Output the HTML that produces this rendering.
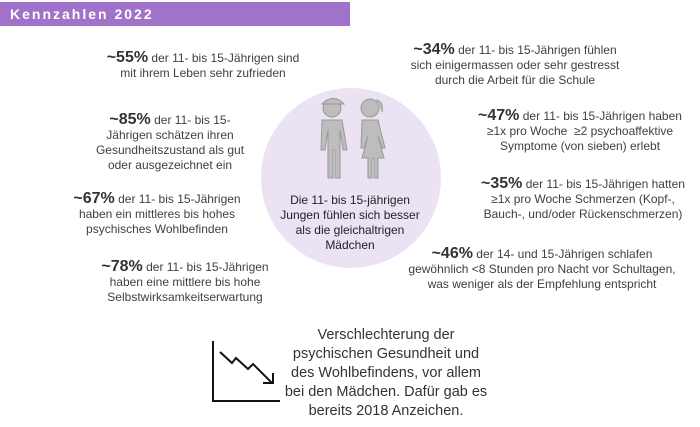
<!DOCTYPE html>
<html><head><meta charset="utf-8"><style>
body{margin:0;width:700px;height:427px;background:#fff;position:relative;overflow:hidden;font-family:"Liberation Sans",sans-serif;color:#404040}
.hdr{position:absolute;left:0;top:2px;width:350px;height:24px;background:#a172c9}
.hdr span{position:absolute;left:10px;top:4px;color:#fff;font-weight:bold;font-size:14px;letter-spacing:2px}
.b{position:absolute;text-align:center;font-size:12px;line-height:15px;transform:translateX(-50%);white-space:nowrap}
.b b{font-size:16px;color:#333}
.circ{position:absolute;left:261px;top:88px;width:180px;height:180px;border-radius:50%;background:#ebe2f3}
</style></head><body>
<div class="hdr"><span>Kennzahlen 2022</span></div>
<div class="circ"></div>
<svg style="position:absolute;left:310px;top:92px" width="90" height="90" viewBox="0 0 90 90">
<g fill="#bdbdbd" stroke="#999" stroke-width="1">
<circle cx="22" cy="16" r="9"/><path d="M12 12 Q22 2 32 10 L34 12 L12 12Z"/>
<path d="M12 28 h20 l5 30 h-4 l-3-20 v48 h-5 v-28 h-2 v28 h-5 v-48 l-3 20 h-4z"/>
<circle cx="60" cy="16" r="9"/><path d="M66 8 q8 2 6 12"/>
<path d="M52 28 h16 l7 28 h-3 l-4-12 6 22 h-6 v20 h-4 v-20 h-2 v20 h-4 v-20 h-6 l6-22 -4 12 h-3z"/>
</g></svg>
<div class="b" style="left:350px;top:193px;color:#222">Die 11- bis 15-jährigen<br>Jungen fühlen sich besser<br>als die gleichaltrigen<br>Mädchen</div>

<div class="b" style="left:203px;top:50px"><b>~55%</b> der 11- bis 15-Jährigen sind<br>mit ihrem Leben sehr zufrieden</div>
<div class="b" style="left:170px;top:112px"><b>~85%</b> der 11- bis 15-<br>Jährigen schätzen ihren<br>Gesundheitszustand als gut<br>oder ausgezeichnet ein</div>
<div class="b" style="left:157px;top:191px"><b>~67%</b> der 11- bis 15-Jährigen<br>haben ein mittleres bis hohes<br>psychisches Wohlbefinden</div>
<div class="b" style="left:185px;top:259px"><b>~78%</b> der 11- bis 15-Jährigen<br>haben eine mittlere bis hohe<br>Selbstwirksamkeitserwartung</div>

<div class="b" style="left:515px;top:42px"><b>~34%</b> der 11- bis 15-Jährigen fühlen<br>sich einigermassen oder sehr gestresst<br>durch die Arbeit für die Schule</div>
<div class="b" style="left:580px;top:108px"><b>~47%</b> der 11- bis 15-Jährigen haben<br>≥1x pro Woche&nbsp; ≥2 psychoaffektive<br>Symptome (von sieben) erlebt</div>
<div class="b" style="left:583px;top:176px"><b>~35%</b> der 11- bis 15-Jährigen hatten<br>≥1x pro Woche Schmerzen (Kopf-,<br>Bauch-, und/oder Rückenschmerzen)</div>
<div class="b" style="left:542px;top:246px"><b>~46%</b> der 14- und 15-Jährigen schlafen<br>gewöhnlich &lt;8 Stunden pro Nacht vor Schultagen,<br>was weniger als der Empfehlung entspricht</div>

<svg style="position:absolute;left:205px;top:335px" width="80" height="70">
<path d="M8 6 V66 H75" fill="none" stroke="#111" stroke-width="2"/>
<path d="M15 17 L27 28 L31 23 L43 34 L48 29 L67 48" fill="none" stroke="#111" stroke-width="2"/>
<path d="M58 48 H68 V38" fill="none" stroke="#111" stroke-width="2"/>
</svg>
<div class="b" style="left:386px;top:326px;font-size:14.5px;line-height:19px;color:#333">Verschlechterung der<br>psychischen Gesundheit und<br>des Wohlbefindens, vor allem<br>bei den Mädchen. Dafür gab es<br>bereits 2018 Anzeichen.</div>
</body></html>
